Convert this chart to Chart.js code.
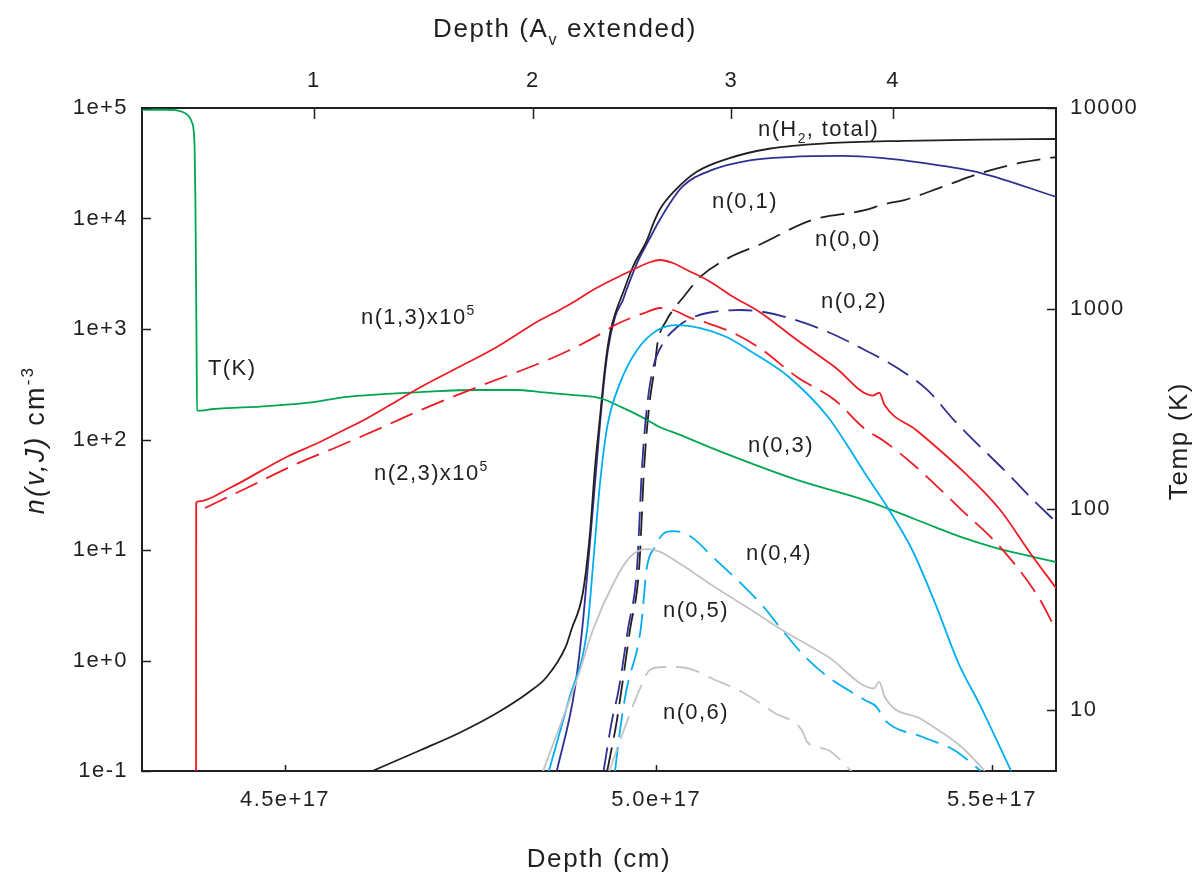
<!DOCTYPE html>
<html>
<head>
<meta charset="utf-8">
<title>H2 level populations vs depth</title>
<script src="https://cdn.jsdelivr.net/npm/chart.js@4.4.1/dist/chart.umd.min.js"></script>
<style>
  html, body { margin: 0; padding: 0; background: #fff; }
  #wrap { position: relative; width: 1198px; height: 877px; }
</style>
</head>
<body>
<div id="wrap"><canvas id="chart"></canvas></div>
<script>
// ===================== DATA ===================== //
// depth in units of 1e17 cm, densities in cm^-3, temperature in K

const X_MIN = 4.321, X_MAX = 5.601;
const Y_MIN = 0.1, Y_MAX = 1e5;
const T_MIN = 4.96, T_MAX = 10000;

const depthTicks = [4.5, 5.0, 5.5];
const avTicks = [1, 2, 3, 4];
const avTickDepth = [4.537, 4.828, 5.108, 5.348];
const densTicks = [0.1, 1, 10, 100, 1000, 10000, 100000];
const densTickLabels = ['1e-1', '1e+0', '1e+1', '1e+2', '1e+3', '1e+4', '1e+5'];
const tempTicks = [10, 100, 1000, 10000];

// T(K)
const tempDepth = [4.321, 4.350, 4.362, 4.374, 4.383, 4.386, 4.387, 4.3885, 4.389, 4.410, 4.478, 4.537, 4.576, 4.627, 4.677, 4.753, 4.806, 4.838, 4.884, 4.921, 4.951, 4.980, 5.005, 5.034, 5.087, 5.204, 5.305, 5.339, 5.412, 5.448, 5.507, 5.566, 5.601];
const tempK = [9800, 9800, 9770, 9440, 8420, 6390, 3480, 600, 310, 316, 327, 342, 362, 375, 384, 393, 393, 384, 371, 358, 323, 288, 257, 235, 197, 140, 111, 101, 81.5, 73.5, 64.1, 57.8, 54.6];

// n(H2, total)
const h2TotDepth = [4.613, 4.677, 4.728, 4.779, 4.821, 4.847, 4.873, 4.881, 4.897, 4.907, 4.914, 4.921, 4.928, 4.935, 4.944, 4.953, 4.967, 4.987, 4.996, 5.005, 5.027, 5.058, 5.104, 5.165, 5.250, 5.365, 5.483, 5.601];
const h2TotDens = [0.1, 0.155, 0.221, 0.335, 0.508, 0.709, 1.32, 1.89, 4.08, 14.3, 56.4, 160, 453, 920, 1486, 2117, 3640, 6385, 9000, 12000, 18000, 26500, 35000, 43000, 48000, 50500, 51800, 52400];

// n(0,0)
const n00Depth = [4.931, 4.944, 4.951, 4.963, 4.976, 4.983, 4.990, 4.998, 5.002, 5.015, 5.024, 5.039, 5.063, 5.104, 5.148, 5.226, 5.305, 5.335, 5.365, 5.423, 5.483, 5.543, 5.601];
const n00Dens = [0.1, 0.272, 0.541, 1.89, 7.02, 56.4, 197, 453, 747, 1205, 1486, 1950, 2960, 4400, 5760, 9690, 11900, 13500, 14700, 19300, 25800, 31800, 36000];

// n(0,1)
const n01Depth = [4.861, 4.885, 4.896, 4.904, 4.914, 4.924, 4.932, 4.942, 4.953, 4.958, 4.973, 4.992, 5.005, 5.037, 5.080, 5.137, 5.192, 5.272, 5.329, 5.393, 5.483, 5.601];
const n01Dens = [0.1, 0.508, 1.89, 7.02, 40.4, 228, 646, 1285, 1828, 2254, 3955, 6800, 9690, 19300, 27500, 33800, 36000, 36800, 35300, 31800, 25800, 15700];

// n(0,2)
const n02Depth = [4.926, 4.937, 4.947, 4.960, 4.973, 4.980, 4.987, 4.996, 5.010, 5.030, 5.054, 5.081, 5.121, 5.155, 5.192, 5.250, 5.305, 5.352, 5.400, 5.441, 5.462, 5.530, 5.560, 5.601];
const n02Dens = [0.1, 0.272, 0.541, 1.89, 7.02, 56.4, 197, 453, 747, 1042, 1285, 1425, 1486, 1425, 1259, 940, 646, 453, 281, 150, 112, 45.8, 30.2, 17.9];

// n(0,3)
const n03Depth = [4.850, 4.878, 4.903, 4.911, 4.921, 4.931, 4.949, 4.973, 5.002, 5.030, 5.063, 5.101, 5.140, 5.192, 5.250, 5.278, 5.305, 5.339, 5.377, 5.412, 5.448, 5.483, 5.530];
const n03Dens = [0.1, 0.45, 1.89, 7.02, 40.4, 130, 324, 646, 979, 1086, 1021, 847, 607, 368, 160, 90, 49.8, 24.5, 10.0, 3.31, 0.948, 0.379, 0.1];

// n(0,4)
const n04Depth = [4.942, 4.949, 4.958, 4.978, 4.987, 4.998, 5.010, 5.024, 5.040, 5.054, 5.081, 5.121, 5.155, 5.182, 5.216, 5.250, 5.305, 5.323, 5.335, 5.393, 5.441, 5.483];
const n04Dens = [0.1, 0.235, 0.541, 1.89, 7.02, 10.6, 14.0, 14.8, 14.2, 12.6, 8.65, 5.03, 3.05, 1.89, 1.08, 0.709, 0.440, 0.379, 0.29, 0.203, 0.155, 0.1];

// n(0,5)
const n05Depth = [4.842, 4.890, 4.911, 4.940, 4.963, 4.987, 5.005, 5.034, 5.054, 5.075, 5.137, 5.182, 5.250, 5.319, 5.327, 5.335, 5.393, 5.453, 5.489];
const n05Dens = [0.1, 0.709, 1.89, 5.03, 8.65, 10.2, 9.68, 7.5, 6.20, 5.03, 2.86, 1.89, 1.08, 0.56, 0.64, 0.47, 0.290, 0.165, 0.1];

// n(0,6)
const n06Depth = [4.934, 4.956, 4.978, 4.991, 5.010, 5.031, 5.054, 5.075, 5.126, 5.171, 5.211, 5.219, 5.250, 5.285];
const n06Dens = [0.1, 0.25, 0.575, 0.820, 0.873, 0.873, 0.820, 0.709, 0.508, 0.335, 0.235, 0.183, 0.155, 0.1];

// n(1,3) x 1e5
const n13Depth = [4.3878, 4.388, 4.391, 4.430, 4.502, 4.542, 4.576, 4.602, 4.636, 4.677, 4.728, 4.779, 4.838, 4.865, 4.889, 4.911, 4.958, 4.992, 5.005, 5.024, 5.044, 5.073, 5.111, 5.149, 5.204, 5.260, 5.317, 5.327, 5.335, 5.383, 5.453, 5.513, 5.560, 5.601];
const n13Dens = [0.05, 26.8, 27.5, 36.4, 69.5, 93, 122, 150, 205, 299, 453, 687, 1205, 1486, 1828, 2254, 3212, 4040, 4210, 3955, 3420, 2776, 1950, 1425, 795, 453, 250, 265, 205, 122, 53.0, 23.0, 9.40, 4.53];

// n(2,3) x 1e5
const n23Depth = [4.399, 4.454, 4.517, 4.567, 4.627, 4.677, 4.753, 4.838, 4.879, 4.924, 4.942, 4.987, 5.005, 5.024, 5.049, 5.073, 5.111, 5.149, 5.204, 5.260, 5.305, 5.335, 5.383, 5.453, 5.513, 5.573, 5.601];
const n23Dens = [24.0, 37.2, 61.2, 85.5, 130, 185, 299, 492, 646, 920, 1086, 1425, 1549, 1486, 1259, 1133, 920, 673, 368, 228, 125, 96, 56.4, 23.0, 10.6, 3.76, 1.89];

// ===================== STYLE ===================== //
const INK = '#231F20';
const FAMILY = '"Liberation Sans", Arial, Helvetica, sans-serif';
const TICK_FONT = { family: FAMILY, size: 22 };

const C_GREEN = '#00A651';
const C_RED = '#ED1C24';
const C_NAVY = '#2E3192';
const C_CYAN = '#00AEEF';
const C_GREY = '#C2C3C5';
const DASH = [24, 10];

function pts(xs, ys) {
  return xs.map((x, i) => ({ x: x, y: ys[i] }));
}

function curve(label, xs, ys, color, axis, dashed) {
  return {
    label: label,
    data: pts(xs, ys),
    xAxisID: 'x',
    yAxisID: axis,
    borderColor: color,
    borderWidth: 1.8,
    borderDash: dashed ? DASH : [],
    pointRadius: 0,
    fill: false,
    cubicInterpolationMode: 'monotone'
  };
}

// labels written next to the curves
const notes = [
  { parts: [['n(H'], ['2', 'sub'], [', total)']], x: 758, y: 136 },
  { parts: [['n(0,1)']], x: 712, y: 208 },
  { parts: [['n(0,0)']], x: 815, y: 246 },
  { parts: [['n(1,3)x10'], ['5', 'sup']], x: 361, y: 324 },
  { parts: [['n(0,2)']], x: 821, y: 308 },
  { parts: [['T(K)']], x: 208, y: 375 },
  { parts: [['n(0,3)']], x: 748, y: 452 },
  { parts: [['n(2,3)x10'], ['5', 'sup']], x: 374, y: 480 },
  { parts: [['n(0,4)']], x: 746, y: 560 },
  { parts: [['n(0,5)']], x: 663, y: 617 },
  { parts: [['n(0,6)']], x: 663, y: 719 }
];

function drawRich(ctx, parts, x, y, size, centered) {
  const fonts = parts.map(p => {
    const small = p[1] === 'sub' || p[1] === 'sup';
    return (p[1] === 'i' ? 'italic ' : '') + (small ? Math.round(size * 0.62) : size) + 'px ' + FAMILY;
  });
  let w = 0;
  parts.forEach((p, i) => { ctx.font = fonts[i]; w += ctx.measureText(p[0]).width; });
  let cx = centered ? x - w / 2 : x;
  parts.forEach((p, i) => {
    ctx.font = fonts[i];
    const dy = p[1] === 'sub' ? size * 0.3 : (p[1] === 'sup' ? -size * 0.42 : 0);
    ctx.fillText(p[0], cx, y + dy);
    cx += ctx.measureText(p[0]).width;
  });
}

// ===================== PLUGINS ===================== //
const spacing = {
  id: 'spacing',
  beforeDraw(chart) { chart.ctx.letterSpacing = '1.4px'; }
};

// tick marks pointing into the plot
const innerTicks = {
  id: 'innerTicks',
  afterDatasetsDraw(chart) {
    const { ctx, chartArea: a, scales } = chart;
    ctx.save();
    ctx.strokeStyle = INK;
    ctx.lineWidth = 1.5;
    ctx.beginPath();
    scales.y.ticks.forEach(t => {
      const p = Math.round(scales.y.getPixelForValue(t.value)) + 0.5;
      ctx.moveTo(a.left, p); ctx.lineTo(a.left + 9, p);
    });
    scales.yT.ticks.forEach(t => {
      const p = Math.round(scales.yT.getPixelForValue(t.value)) + 0.5;
      ctx.moveTo(a.right, p); ctx.lineTo(a.right - 9, p);
    });
    scales.x.ticks.forEach(t => {
      const p = Math.round(scales.x.getPixelForValue(t.value)) + 0.5;
      ctx.moveTo(p, a.bottom); ctx.lineTo(p, a.bottom - 6);
    });
    scales.xAv.ticks.forEach(t => {
      const p = Math.round(scales.xAv.getPixelForValue(t.value)) + 0.5;
      ctx.moveTo(p, a.top); ctx.lineTo(p, a.top + 11);
    });
    ctx.stroke();
    ctx.restore();
  }
};

// axis titles and curve labels
const texts = {
  id: 'texts',
  afterDraw(chart) {
    const ctx = chart.ctx;
    ctx.save();
    ctx.fillStyle = INK;
    ctx.textBaseline = 'alphabetic';
    ctx.textAlign = 'left';

    ctx.letterSpacing = '1.6px';
    drawRich(ctx, [['Depth (cm)']], 599, 867, 26, true);
    drawRich(ctx, [['Depth (A'], ['v', 'sub'], [' extended)']], 565, 37, 26, true);

    ctx.save();
    ctx.translate(44, 440);
    ctx.rotate(-Math.PI / 2);
    ctx.letterSpacing = '2.2px';
    drawRich(ctx, [['n(v,J)', 'i'], [' cm'], ['-3', 'sup']], 0, 0, 27, true);
    ctx.restore();

    ctx.save();
    ctx.translate(1187, 441);
    ctx.rotate(-Math.PI / 2);
    drawRich(ctx, [['Temp (K)']], 0, 0, 26, true);
    ctx.restore();

    ctx.letterSpacing = '1.4px';
    notes.forEach(n => drawRich(ctx, n.parts, n.x, n.y, 22, false));
    ctx.restore();
  }
};

// ===================== CHART ===================== //
const axisBorder = { color: INK, width: 2 };
const noGrid = { display: false, drawTicks: false };

new Chart(document.getElementById('chart'), {
  type: 'line',
  data: {
    datasets: [
      curve('n(0,6)', n06Depth, n06Dens, C_GREY, 'y', true),
      curve('n(0,5)', n05Depth, n05Dens, C_GREY, 'y', false),
      curve('n(0,4)', n04Depth, n04Dens, C_CYAN, 'y', true),
      curve('n(0,3)', n03Depth, n03Dens, C_CYAN, 'y', false),
      curve('n(0,2)', n02Depth, n02Dens, C_NAVY, 'y', true),
      curve('n(2,3)x10^5', n23Depth, n23Dens, C_RED, 'y', true),
      curve('n(1,3)x10^5', n13Depth, n13Dens, C_RED, 'y', false),
      curve('T(K)', tempDepth, tempK, C_GREEN, 'yT', false),
      curve('n(0,0)', n00Depth, n00Dens, INK, 'y', true),
      curve('n(H2, total)', h2TotDepth, h2TotDens, INK, 'y', false),
      curve('n(0,1)', n01Depth, n01Dens, C_NAVY, 'y', false)
    ]
  },
  options: {
    responsive: true,
    maintainAspectRatio: false,
    animation: false,
    events: [],
    layout: { padding: 0 },
    plugins: { legend: { display: false }, tooltip: { enabled: false } },
    scales: {
      x: {
        type: 'logarithmic', position: 'bottom', min: X_MIN, max: X_MAX, bounds: 'data',
        afterBuildTicks: s => { s.ticks = depthTicks.map(v => ({ value: v })); },
        afterFit: s => { s.height = 106; },
        ticks: { callback: v => v.toFixed(1) + 'e+17', font: TICK_FONT, color: INK, padding: 16, maxRotation: 0, autoSkip: false },
        grid: noGrid, border: axisBorder
      },
      xAv: {
        type: 'logarithmic', position: 'top', min: X_MIN, max: X_MAX, bounds: 'data',
        afterBuildTicks: s => { s.ticks = avTickDepth.map(v => ({ value: v })); },
        afterFit: s => { s.height = 108; },
        ticks: { callback: (v, i) => String(avTicks[i]), font: TICK_FONT, color: INK, padding: 14, maxRotation: 0, autoSkip: false },
        grid: noGrid, border: axisBorder
      },
      y: {
        type: 'logarithmic', position: 'left', min: Y_MIN, max: Y_MAX, bounds: 'data',
        afterBuildTicks: s => { s.ticks = densTicks.map(v => ({ value: v })); },
        afterFit: s => { s.width = 142; },
        ticks: { callback: (v, i) => densTickLabels[i], font: TICK_FONT, color: INK, padding: 14, autoSkip: false },
        grid: noGrid, border: axisBorder
      },
      yT: {
        type: 'logarithmic', position: 'right', min: T_MIN, max: T_MAX, bounds: 'data',
        afterBuildTicks: s => { s.ticks = tempTicks.map(v => ({ value: v })); },
        afterFit: s => { s.width = 142; },
        ticks: { callback: v => String(v), font: TICK_FONT, color: INK, padding: 14, autoSkip: false },
        grid: noGrid, border: axisBorder
      }
    }
  },
  plugins: [spacing, innerTicks, texts]
});
</script>
</body>
</html>
